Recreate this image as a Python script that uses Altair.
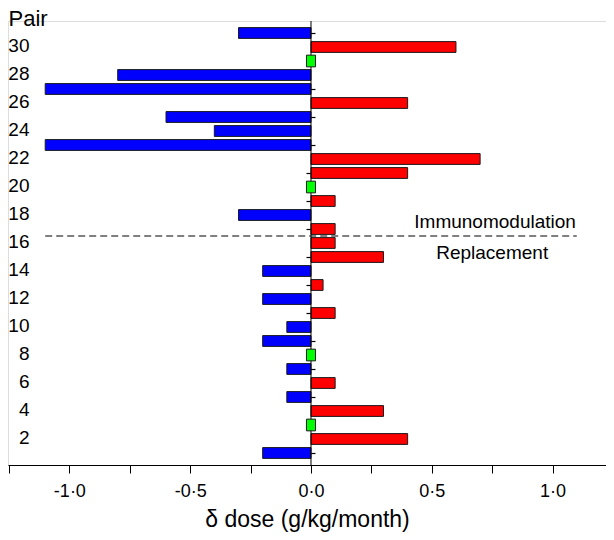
import altair as alt
import pandas as pd

# ---- data ----
pairs = list(range(1, 32))
delta_dose = [-0.2, 0.4, 0.0, 0.3, -0.1, 0.1, -0.1, 0.0, -0.2, -0.1,
              0.1, -0.2, 0.05, -0.2, 0.3, 0.1, 0.1, -0.3, 0.1, 0.0,
              0.4, 0.7, -1.1, -0.4, -0.6, 0.4, -1.1, -0.8, 0.0, 0.6, -0.3]
pair_labels = list(range(2, 31, 2))
pair_ticks = list(range(1, 32, 2))
x_ticks = [-1.25, -1.0, -0.75, -0.5, -0.25, 0.0, 0.25, 0.5, 0.75, 1.0]

divider_pair = [16.5]
divider_from = [-1.1]
divider_to = [1.1]

note_text = ["Immunomodulation", "Replacement"]
note_x = [0.762, 0.750]
note_y = [17.08, 14.85]

# ---- tables ----
groups = ["decrease" if v < 0 else ("increase" if v > 0 else "none") for v in delta_dose]
df = pd.DataFrame({"pair": pairs, "value": delta_dose, "group": groups})
df_div = pd.DataFrame({"y": divider_pair, "x1": divider_from, "x2": divider_to})
df_note = pd.DataFrame({"text": note_text, "x": note_x, "y": note_y})
df_zero = pd.DataFrame({"x": [0.0]})
df_ticks = pd.DataFrame({"pair": pair_ticks})

FONT = "Liberation Sans"
xscale = alt.Scale(domain=[-1.254, 1.221], nice=False, zero=False)
yscale = alt.Scale(domain=[0.5, 31.5], nice=False, zero=False)

label_expr = ("abs(datum.value*2 - round(datum.value*2)) < 0.001 ? "
              "(datum.value < 0 ? '-' : '') + floor(abs(datum.value) + 0.001) + '\u00b7' + "
              "round((abs(datum.value) % 1) * 10) : ''")

x_axis = alt.Axis(values=x_ticks, labelExpr=label_expr, tickSize=8, tickColor="black",
                  domainColor="black", labelFontSize=18, labelColor="black",
                  labelPadding=9, grid=False, title="\u03b4 dose (g/kg/month)",
                  titleFontSize=23, titleFontWeight="normal", titleColor="black",
                  titlePadding=8, labelFont=FONT, titleFont=FONT)

y_axis = alt.Axis(values=pair_labels, offset=-21, ticks=False, domain=False,
                  labelPadding=0, labelFontSize=19, labelColor="black", labelFont=FONT,
                  labelOffset=-2, grid=False, title="Pair", titleAngle=0, titleX=-21,
                  titleY=4, titleAlign="left", titleBaseline="alphabetic",
                  titleFontSize=22, titleFontWeight="normal", titleColor="black",
                  titleFont=FONT)

y_tick_axis = alt.Axis(values=pair_ticks, orient="left", offset=-307, labels=False,
                       domain=False, ticks=True, tickSize=9, tickColor="black",
                       tickWidth=1.2, grid=False, title=None)

bars = alt.Chart(df).transform_filter("datum.value != 0").mark_bar(
    orient="horizontal", size=10.8, stroke="#1a1a1a", strokeWidth=1
).encode(
    x=alt.X("value:Q", scale=xscale, axis=x_axis, stack=None),
    x2=alt.datum(0),
    y=alt.Y("pair:Q", scale=yscale, axis=y_axis),
    color=alt.Color("group:N",
                    scale=alt.Scale(domain=["decrease", "increase", "none"],
                                    range=["#0000ff", "#ff0000", "#00ff00"]),
                    legend=None),
)

zero_line = alt.Chart(df_zero).mark_rule(color="black", strokeWidth=1).encode(
    x=alt.X("x:Q", scale=xscale)
)

ticks = alt.Chart(df_ticks).mark_point(opacity=0).encode(
    y=alt.Y("pair:Q", scale=yscale, axis=y_tick_axis),
    x=alt.datum(0),
)

square_path = "M-0.77,-1H0.77V1H-0.77Z"
green = alt.Chart(df).transform_filter("datum.value == 0").mark_point(
    shape=square_path, filled=True, size=137, fill="#00ff00", stroke="#1a1a1a",
    strokeWidth=1, opacity=1
).encode(
    x=alt.X("value:Q", scale=xscale),
    y=alt.Y("pair:Q", scale=yscale),
)

divider = alt.Chart(df_div).mark_rule(color="black", strokeWidth=1, strokeDash=[7, 4]).encode(
    x=alt.X("x1:Q", scale=xscale),
    x2="x2:Q",
    y=alt.Y("y:Q", scale=yscale),
)

notes = alt.Chart(df_note).mark_text(
    font=FONT, fontSize=19, color="black", align="center", baseline="alphabetic"
).encode(
    x=alt.X("x:Q", scale=xscale),
    y=alt.Y("y:Q", scale=yscale),
    text="text:N",
)

chart = alt.layer(bars, zero_line, green, divider, notes, ticks).resolve_axis(
    y="independent"
).properties(
    width=598, height=444,
    autosize=alt.AutoSizeParams(type="none"),
    padding={"left": 0, "top": 13, "right": 0, "bottom": 67},
).configure_view(stroke=None).configure(font=FONT)

chart.save("out.html", embed_options={"renderer": "svg", "actions": False})
